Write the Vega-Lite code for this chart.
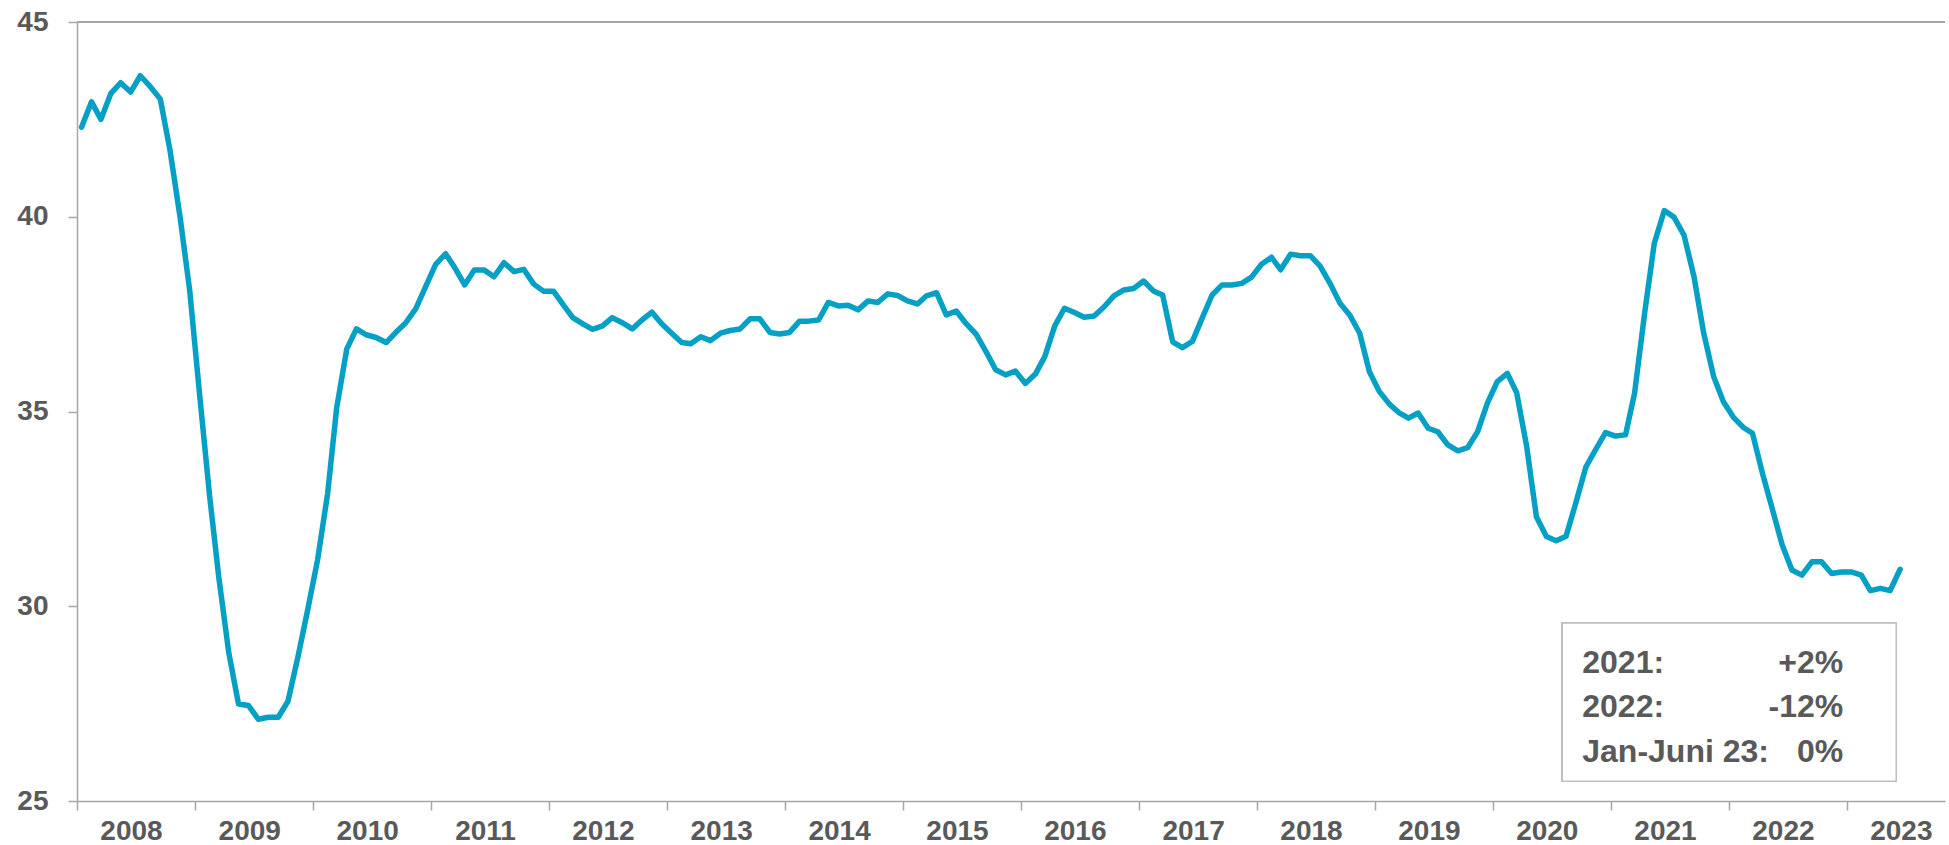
{
  "$schema": "https://vega.github.io/schema/vega-lite/v6.json",
  "width": 1868,
  "height": 779,
  "autosize": {"type": "none"},
  "padding": {"left": 77, "top": 22, "right": 4, "bottom": 44},
  "background": "white",
  "config": {
    "view": {"stroke": null},
    "font": "Liberation Sans",
    "text": {"font": "Liberation Sans"},
    "axis": {
      "labelFont": "Liberation Sans",
      "labelFontSize": 28,
      "labelFontWeight": "bold",
      "labelColor": "#595959",
      "domainColor": "#A6A6A6",
      "domainWidth": 1.5,
      "tickColor": "#A6A6A6",
      "tickWidth": 1.5,
      "tickSize": 9,
      "grid": false,
      "title": null
    }
  },
  "data": {
    "values": [
      {"date":"2008-01-15","v":42.3},{"date":"2008-02-15","v":42.95},{"date":"2008-03-15","v":42.5},{"date":"2008-04-15","v":43.17},{"date":"2008-05-15","v":43.44},{"date":"2008-06-15","v":43.2},{"date":"2008-07-15","v":43.62},{"date":"2008-08-15","v":43.34},{"date":"2008-09-15","v":43.02},{"date":"2008-10-15","v":41.7},{"date":"2008-11-15","v":40.0},{"date":"2008-12-15","v":38.1},
      {"date":"2009-01-15","v":35.4},{"date":"2009-02-15","v":32.8},{"date":"2009-03-15","v":30.74},{"date":"2009-04-15","v":28.8},{"date":"2009-05-15","v":27.49},{"date":"2009-06-15","v":27.45},{"date":"2009-07-15","v":27.1},{"date":"2009-08-15","v":27.15},{"date":"2009-09-15","v":27.15},{"date":"2009-10-15","v":27.56},{"date":"2009-11-15","v":28.7},{"date":"2009-12-15","v":29.9},
      {"date":"2010-01-15","v":31.2},{"date":"2010-02-15","v":32.9},{"date":"2010-03-15","v":35.1},{"date":"2010-04-15","v":36.6},{"date":"2010-05-15","v":37.12},{"date":"2010-06-15","v":36.97},{"date":"2010-07-15","v":36.9},{"date":"2010-08-15","v":36.77},{"date":"2010-09-15","v":37.04},{"date":"2010-10-15","v":37.28},{"date":"2010-11-15","v":37.64},{"date":"2010-12-15","v":38.2},
      {"date":"2011-01-15","v":38.77},{"date":"2011-02-15","v":39.05},{"date":"2011-03-15","v":38.7},{"date":"2011-04-15","v":38.25},{"date":"2011-05-15","v":38.63},{"date":"2011-06-15","v":38.63},{"date":"2011-07-15","v":38.46},{"date":"2011-08-15","v":38.82},{"date":"2011-09-15","v":38.59},{"date":"2011-10-15","v":38.65},{"date":"2011-11-15","v":38.27},{"date":"2011-12-15","v":38.09},
      {"date":"2012-01-15","v":38.09},{"date":"2012-02-15","v":37.73},{"date":"2012-03-15","v":37.41},{"date":"2012-04-15","v":37.25},{"date":"2012-05-15","v":37.11},{"date":"2012-06-15","v":37.2},{"date":"2012-07-15","v":37.41},{"date":"2012-08-15","v":37.28},{"date":"2012-09-15","v":37.12},{"date":"2012-10-15","v":37.35},{"date":"2012-11-15","v":37.55},{"date":"2012-12-15","v":37.25},
      {"date":"2013-01-15","v":37.01},{"date":"2013-02-15","v":36.77},{"date":"2013-03-15","v":36.74},{"date":"2013-04-15","v":36.92},{"date":"2013-05-15","v":36.82},{"date":"2013-06-15","v":37.01},{"date":"2013-07-15","v":37.08},{"date":"2013-08-15","v":37.12},{"date":"2013-09-15","v":37.38},{"date":"2013-10-15","v":37.38},{"date":"2013-11-15","v":37.03},{"date":"2013-12-15","v":36.99},
      {"date":"2014-01-15","v":37.03},{"date":"2014-02-15","v":37.32},{"date":"2014-03-15","v":37.32},{"date":"2014-04-15","v":37.35},{"date":"2014-05-15","v":37.8},{"date":"2014-06-15","v":37.71},{"date":"2014-07-15","v":37.73},{"date":"2014-08-15","v":37.61},{"date":"2014-09-15","v":37.84},{"date":"2014-10-15","v":37.8},{"date":"2014-11-15","v":38.02},{"date":"2014-12-15","v":37.98},
      {"date":"2015-01-15","v":37.84},{"date":"2015-02-15","v":37.76},{"date":"2015-03-15","v":37.97},{"date":"2015-04-15","v":38.05},{"date":"2015-05-15","v":37.48},{"date":"2015-06-15","v":37.58},{"date":"2015-07-15","v":37.26},{"date":"2015-08-15","v":36.99},{"date":"2015-09-15","v":36.54},{"date":"2015-10-15","v":36.07},{"date":"2015-11-15","v":35.94},{"date":"2015-12-15","v":36.04},
      {"date":"2016-01-15","v":35.72},{"date":"2016-02-15","v":35.96},{"date":"2016-03-15","v":36.41},{"date":"2016-04-15","v":37.2},{"date":"2016-05-15","v":37.65},{"date":"2016-06-15","v":37.54},{"date":"2016-07-15","v":37.42},{"date":"2016-08-15","v":37.45},{"date":"2016-09-15","v":37.69},{"date":"2016-10-15","v":37.97},{"date":"2016-11-15","v":38.12},{"date":"2016-12-15","v":38.16},
      {"date":"2017-01-15","v":38.35},{"date":"2017-02-15","v":38.09},{"date":"2017-03-15","v":37.99},{"date":"2017-04-15","v":36.79},{"date":"2017-05-15","v":36.64},{"date":"2017-06-15","v":36.8},{"date":"2017-07-15","v":37.39},{"date":"2017-08-15","v":37.99},{"date":"2017-09-15","v":38.25},{"date":"2017-10-15","v":38.25},{"date":"2017-11-15","v":38.29},{"date":"2017-12-15","v":38.45},
      {"date":"2018-01-15","v":38.78},{"date":"2018-02-15","v":38.96},{"date":"2018-03-15","v":38.64},{"date":"2018-04-15","v":39.04},{"date":"2018-05-15","v":39.0},{"date":"2018-06-15","v":39.0},{"date":"2018-07-15","v":38.74},{"date":"2018-08-15","v":38.29},{"date":"2018-09-15","v":37.78},{"date":"2018-10-15","v":37.48},{"date":"2018-11-15","v":37.01},{"date":"2018-12-15","v":36.02},
      {"date":"2019-01-15","v":35.51},{"date":"2019-02-15","v":35.19},{"date":"2019-03-15","v":34.98},{"date":"2019-04-15","v":34.83},{"date":"2019-05-15","v":34.96},{"date":"2019-06-15","v":34.57},{"date":"2019-07-15","v":34.48},{"date":"2019-08-15","v":34.14},{"date":"2019-09-15","v":33.99},{"date":"2019-10-15","v":34.07},{"date":"2019-11-15","v":34.48},{"date":"2019-12-15","v":35.21},
      {"date":"2020-01-15","v":35.77},{"date":"2020-02-15","v":35.98},{"date":"2020-03-15","v":35.48},{"date":"2020-04-15","v":34.1},{"date":"2020-05-15","v":32.3},{"date":"2020-06-15","v":31.79},{"date":"2020-07-15","v":31.68},{"date":"2020-08-15","v":31.8},{"date":"2020-09-15","v":32.68},{"date":"2020-10-15","v":33.57},{"date":"2020-11-15","v":34.03},{"date":"2020-12-15","v":34.46},
      {"date":"2021-01-15","v":34.37},{"date":"2021-02-15","v":34.4},{"date":"2021-03-15","v":35.47},{"date":"2021-04-15","v":37.52},{"date":"2021-05-15","v":39.32},{"date":"2021-06-15","v":40.16},{"date":"2021-07-15","v":39.99},{"date":"2021-08-15","v":39.53},{"date":"2021-09-15","v":38.46},{"date":"2021-10-15","v":37.01},{"date":"2021-11-15","v":35.89},{"date":"2021-12-15","v":35.25},
      {"date":"2022-01-15","v":34.85},{"date":"2022-02-15","v":34.59},{"date":"2022-03-15","v":34.44},{"date":"2022-04-15","v":33.41},{"date":"2022-05-15","v":32.51},{"date":"2022-06-15","v":31.57},{"date":"2022-07-15","v":30.93},{"date":"2022-08-15","v":30.8},{"date":"2022-09-15","v":31.14},{"date":"2022-10-15","v":31.14},{"date":"2022-11-15","v":30.84},{"date":"2022-12-15","v":30.88},
      {"date":"2023-01-15","v":30.88},{"date":"2023-02-15","v":30.8},{"date":"2023-03-15","v":30.4},{"date":"2023-04-15","v":30.46},{"date":"2023-05-15","v":30.4},{"date":"2023-06-15","v":30.95}
    ]
  },
  "layer": [
    {
      "mark": {"type": "rule", "color": "#A6A6A6", "strokeWidth": 1.5},
      "encoding": {"y": {"datum": 45, "type": "quantitative", "scale": {"domain": [25, 45], "nice": false, "zero": false}}}
    },
    {
      "mark": {"type": "line", "color": "#05A0C4", "strokeWidth": 5.5, "strokeJoin": "round", "strokeCap": "round"},
      "encoding": {
        "x": {
          "field": "date",
          "type": "temporal",
          "scale": {
            "type": "utc",
            "domain": [{"year": 2008, "month": 1, "date": 1, "utc": true}, {"year": 2023, "month": 11, "date": 1, "utc": true}]
          },
          "axis": {
            "values": [
              {"year": 2008, "month": 1, "date": 1, "utc": true},{"year": 2009, "month": 1, "date": 1, "utc": true},{"year": 2010, "month": 1, "date": 1, "utc": true},{"year": 2011, "month": 1, "date": 1, "utc": true},
              {"year": 2012, "month": 1, "date": 1, "utc": true},{"year": 2013, "month": 1, "date": 1, "utc": true},{"year": 2014, "month": 1, "date": 1, "utc": true},{"year": 2015, "month": 1, "date": 1, "utc": true},
              {"year": 2016, "month": 1, "date": 1, "utc": true},{"year": 2017, "month": 1, "date": 1, "utc": true},{"year": 2018, "month": 1, "date": 1, "utc": true},{"year": 2019, "month": 1, "date": 1, "utc": true},
              {"year": 2020, "month": 1, "date": 1, "utc": true},{"year": 2021, "month": 1, "date": 1, "utc": true},{"year": 2022, "month": 1, "date": 1, "utc": true},{"year": 2023, "month": 1, "date": 1, "utc": true}
            ],
            "format": "%Y",
            "formatType": "utc",
            "labelOffset": 54,
            "labelPadding": 7,
            "labelAlign": "center",
            "labelOverlap": false,
            "labelFlush": false
          }
        },
        "y": {
          "field": "v",
          "type": "quantitative",
          "scale": {"domain": [25, 45], "nice": false, "zero": false},
          "axis": {"values": [25, 30, 35, 40, 45], "labelPadding": 20}
        }
      }
    },
    {
      "mark": {"type": "rect", "fill": "white", "stroke": "#BFBFBF", "strokeWidth": 1.5},
      "encoding": {
        "x": {"datum": {"year": 2020, "month": 8, "date": 3, "utc": true}, "type": "temporal"},
        "x2": {"datum": {"year": 2023, "month": 6, "date": 3, "utc": true}},
        "y": {"datum": 29.57, "type": "quantitative"},
        "y2": {"datum": 25.51}
      }
    },
    {
      "data": {"values": [{"label": "2021:", "value": "+2%", "row": 28.29}, {"label": "2022:", "value": "-12%", "row": 27.16}, {"label": "Jan-Juni 23:", "value": "0%", "row": 26.0}]},
      "mark": {"type": "text", "align": "left", "baseline": "alphabetic", "fontSize": 32, "fontWeight": "bold", "fill": "#595959"},
      "encoding": {
        "x": {"datum": {"year": 2020, "month": 10, "date": 4, "utc": true}, "type": "temporal"},
        "y": {"field": "row", "type": "quantitative"},
        "text": {"field": "label", "type": "nominal"}
      }
    },
    {
      "data": {"values": [{"label": "2021:", "value": "+2%", "row": 28.29}, {"label": "2022:", "value": "-12%", "row": 27.16}, {"label": "Jan-Juni 23:", "value": "0%", "row": 26.0}]},
      "mark": {"type": "text", "align": "right", "baseline": "alphabetic", "fontSize": 32, "fontWeight": "bold", "fill": "#595959"},
      "encoding": {
        "x": {"datum": {"year": 2022, "month": 12, "date": 21, "utc": true}, "type": "temporal"},
        "y": {"field": "row", "type": "quantitative"},
        "text": {"field": "value", "type": "nominal"}
      }
    }
  ]
}
